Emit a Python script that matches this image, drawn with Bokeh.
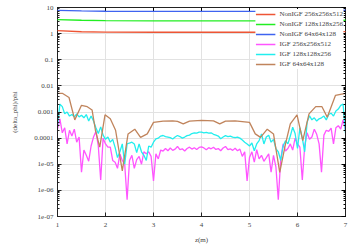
from bokeh.plotting import figure
from bokeh.models import LogAxis, LinearAxis, CustomJSTickFormatter, FixedTicker, Legend, LegendItem, LogTicker
from bokeh.embed import file_html
from bokeh.resources import INLINE

# ---------------- data ----------------
z_nonigf = [1.0, 1.5, 2.0, 3.0, 4.0, 5.0, 6.0, 7.0]
nonigf_64 = [7.7, 7.4, 7.2, 7.1, 7.1, 7.1, 7.3, 7.9]
nonigf_128 = [3.45, 3.25, 3.15, 3.1, 3.1, 3.1, 3.15, 3.25]
nonigf_256 = [1.3, 1.18, 1.14, 1.13, 1.13, 1.13, 1.15, 1.2]

z_igf64 = [1.00, 1.10, 1.24, 1.36, 1.50, 1.62, 1.72, 1.79, 1.88, 1.99, 2.10, 2.21, 2.35,
           2.47, 2.61, 2.73, 2.87, 3.00, 3.20, 3.40, 3.50, 3.62, 3.75, 4.00, 4.25, 4.38,
           4.50, 4.70, 4.90, 5.00, 5.12, 5.23, 5.37, 5.50, 5.63, 5.75, 5.85, 5.99, 6.11,
           6.24, 6.38, 6.51, 6.62, 6.79, 7.00]
igf_64 = [5.2e-3, 5.2e-3, 3.6e-3, 5.0e-4, 1.8e-3, 1.6e-3, 1.2e-3, 2.0e-4, 4.5e-5, 7.8e-4,
          5.5e-4, 2.0e-4, 5.6e-6, 1.45e-4, 2.2e-4, 1.07e-4, 1.45e-4, 4.0e-4, 4.5e-4, 4.6e-4,
          4.4e-4, 3.5e-4, 4.5e-4, 4.8e-4, 4.6e-4, 3.5e-4, 4.5e-4, 4.6e-4, 4.2e-4, 4.0e-4,
          1.45e-4, 1.07e-4, 2.2e-4, 1.45e-4, 4.9e-6, 6.0e-5, 3.5e-4, 7.8e-4, 8.0e-5, 8.5e-4,
          1.6e-3, 1.6e-3, 6.3e-4, 4.3e-3, 5.2e-3]

z_fine = [round(1.0 + 0.05 * i, 2) for i in range(121)]
igf_128 = [3e-4, 2.0e-3, 1.6e-3, 8.5e-4, 1.0e-3, 7e-4, 8e-4, 6.5e-4, 8.5e-4, 6.5e-4,
           7.5e-4, 6e-4, 8e-4, 4.5e-4, 7e-4, 4.5e-4, 2.5e-4, 1.5e-4, 2.7e-4, 1.3e-4,
           9e-5, 1.1e-4, 7e-5, 9e-5, 4.4e-5, 1.8e-5, 3e-5, 6e-5, 1.0e-5, 6e-5,
           6.5e-5, 7e-5, 6e-5, 2.8e-5, 6e-5, 3e-5, 2.2e-5, 1.4e-5, 5e-5, 4.5e-5,
           7e-5, 9.3e-5, 1.0e-4, 1.2e-4, 1.26e-4, 1.15e-4, 1.1e-4, 1.05e-4, 9.3e-5, 1.1e-4,
           1.26e-4, 1.15e-4, 1.0e-4, 1.1e-4, 1.25e-4, 1.3e-4, 1.5e-4, 1.6e-4, 1.55e-4, 1.7e-4,
           1.7e-4, 1.6e-4, 1.65e-4, 1.55e-4, 1.6e-4, 1.4e-4, 1.3e-4, 1.2e-4, 9.5e-5, 1.1e-4,
           1.25e-4, 1.15e-4, 1.2e-4, 1.1e-4, 1.05e-4, 1.1e-4, 1.0e-4, 8.5e-5, 7e-5, 6e-5,
           5e-5, 6.5e-5, 3.3e-5, 6e-5, 8e-5, 1.45e-4, 6e-5, 1.1e-4, 1.3e-4, 7e-5,
           9e-5, 4e-5, 3e-5, 1.4e-5, 5e-5, 8e-5, 6e-5, 1.2e-4, 2.6e-4, 1.5e-4,
           4e-5, 2.5e-4, 1.0e-4, 3e-5, 4e-4, 7.2e-4, 5e-4, 6e-4, 4.5e-4, 5.5e-4,
           6e-4, 7e-4, 5e-4, 8e-4, 9e-4, 7e-4, 1.1e-3, 1.3e-3, 1.8e-3, 2.0e-3,
           1.5e-4]
igf_256 = [2.2e-4, 5.5e-4, 1.6e-4, 2.5e-4, 6e-5, 2.0e-4, 1.2e-4, 2.2e-4, 7e-5, 1.1e-4,
           5e-6, 3.5e-5, 2.2e-5, 1.3e-5, 5e-5, 1.1e-4, 1.8e-4, 5e-5, 2.5e-6, 1.0e-4,
           6e-5, 4.5e-5, 4.5e-5, 1.4e-5, 1.2e-5, 7e-6, 2.5e-5, 1.4e-5, 1.0e-5, 4.4e-7,
           1.4e-5, 2.2e-5, 7e-6, 1.5e-5, 2.0e-5, 1.0e-5, 3e-5, 2.5e-5, 3e-5, 2.0e-5,
           2.3e-6, 2.5e-5, 1.6e-5, 3.5e-5, 3.2e-5, 4e-5, 3.3e-5, 4.2e-5, 3.4e-5, 3.8e-5,
           4.8e-5, 3.6e-5, 3.9e-5, 3.2e-5, 4e-5, 4.5e-5, 3.8e-5, 4.3e-5, 3.7e-5, 4.4e-5,
           4.6e-5, 4.2e-5, 3.6e-5, 4.3e-5, 3.9e-5, 4.5e-5, 3.7e-5, 4e-5, 3.3e-5, 4.2e-5,
           4.8e-5, 3.6e-5, 3.9e-5, 3.4e-5, 4.1e-5, 3.3e-5, 3.8e-5, 2.0e-5, 3e-5, 2.3e-6,
           1.8e-5, 3e-5, 1.2e-5, 3.6e-5, 1.6e-5, 2.2e-5, 1.3e-5, 1.8e-5, 2.5e-5, 5e-6,
           2.2e-5, 8e-6, 4.4e-7, 1.5e-5, 6e-5, 3.2e-5, 4e-5, 6e-5, 3.5e-5, 1.0e-4,
           6e-5, 4.5e-5, 2.5e-6, 5e-5, 1.6e-4, 9e-5, 1.1e-4, 2.2e-4, 1.4e-4, 6e-5,
           5e-6, 1.3e-4, 2.0e-4, 1.8e-4, 2.4e-4, 6e-5, 2.5e-4, 3e-4, 2.2e-4, 5e-4,
           2.0e-4]

x_ticks = [1, 2, 3, 4, 5, 6, 7]
y_ticks = [1e-7, 1e-6, 1e-5, 1e-4, 1e-3, 1e-2, 1e-1, 1, 10]
y_tick_labels = ["1e-07", "1e-06", "1e-05", "0.0001", "0.001", "0.01", "0.1", "1", "10"]

series = [
    ("NonIGF 256x256x512", z_nonigf, nonigf_256, "#ee5535"),
    ("NonIGF 128x128x256", z_nonigf, nonigf_128, "#22ee22"),
    ("NonIGF 64x64x128", z_nonigf, nonigf_64, "#3f63f0"),
    ("IGF 256x256x512", z_fine, igf_256, "#ff55ff"),
    ("IGF 128x128x256", z_fine, igf_128, "#22eeee"),
    ("IGF 64x64x128", z_igf64, igf_64, "#c0845c"),
]

FONT = "Liberation Serif"

p = figure(width=355, height=249, y_axis_type="log", x_range=(1, 7), y_range=(1e-7, 10),
           output_backend="svg", toolbar_location=None,
           min_border_left=57, min_border_right=10, min_border_top=7, min_border_bottom=33)
p.outline_line_color = "#222222"
p.background_fill_color = "white"

lines = []
for name, xs, ys, col in series:
    r = p.line(xs, ys, line_color=col, line_width=1.3)
    if name.startswith("NonIGF"):
        r.level = "overlay"
    lines.append((name, r))

xa = p.xaxis[0]
xa.ticker = FixedTicker(ticks=x_ticks)
xa.axis_label = "z(m)"
ya = p.yaxis[0]
ya.ticker = LogTicker(num_minor_ticks=10)
ya.formatter = CustomJSTickFormatter(args=dict(tvals=y_ticks, tlabels=y_tick_labels), code="""
    const e = Math.round(Math.log10(tick));
    for (let i = 0; i < tvals.length; i++) {
        if (Math.round(Math.log10(tvals[i])) == e) return tlabels[i];
    }
    return '';
""")
ya.axis_label = "(delta_phi)/phi"

for ax in (xa, ya):
    ax.major_label_text_font = FONT
    ax.major_label_text_font_size = "7px"
    ax.axis_label_text_font = FONT
    ax.axis_label_text_font_size = "7px"
    ax.axis_label_text_font_style = "normal"
    ax.major_tick_in = 4
    ax.major_tick_out = 0
    ax.minor_tick_in = 2
    ax.minor_tick_out = 0
    ax.axis_line_color = "#222222"
    ax.major_tick_line_color = "#222222"
    ax.minor_tick_line_color = "#222222"
xa.major_label_standoff = 6
xa.axis_label_standoff = 6
ya.major_label_standoff = 4
ya.axis_label_standoff = 12

ra = LogAxis(ticker=LogTicker(num_minor_ticks=10), major_label_text_font_size="1px",
             major_label_text_alpha=0,
             major_tick_in=4, major_tick_out=0, minor_tick_in=2, minor_tick_out=0,
             major_label_standoff=0, axis_line_color="#222222")
p.add_layout(ra, "right")
ta = LinearAxis(ticker=FixedTicker(ticks=x_ticks), major_label_text_font_size="1px",
                major_label_text_alpha=0,
                major_tick_in=4, major_tick_out=0, minor_tick_in=0, minor_tick_out=0,
                major_label_standoff=0, axis_line_color="#222222")
p.add_layout(ta, "above")

p.xgrid.grid_line_color = "#e2e2e2"
p.ygrid.grid_line_color = "#e2e2e2"
p.xgrid.ticker = FixedTicker(ticks=x_ticks)

legend = Legend(items=[LegendItem(label=n, renderers=[r]) for n, r in lines],
                location="top_right", label_text_font=FONT, label_text_font_size="7px",
                label_height=10, glyph_height=10, glyph_width=20, spacing=0, padding=2,
                margin=2, border_line_color=None, background_fill_color="white",
                background_fill_alpha=1.0, label_standoff=4)
p.add_layout(legend)

open("out.html", "w").write(file_html(p, INLINE))
